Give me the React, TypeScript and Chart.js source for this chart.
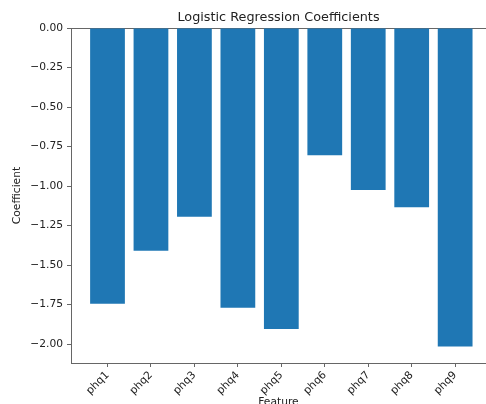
import { useEffect, useRef } from 'react';
import { Chart, registerables } from 'chart.js';

Chart.register(...registerables);

// values
const features = ['phq1', 'phq2', 'phq3', 'phq4', 'phq5', 'phq6', 'phq7', 'phq8', 'phq9'];
const coefficients = [-1.745, -1.41, -1.195, -1.77, -1.905, -0.805, -1.025, -1.135, -2.015];
const yTicks = [0, -0.25, -0.5, -0.75, -1, -1.25, -1.5, -1.75, -2];

// axis ranges (matplotlib margins, right side cropped in the original)
const xMin = -0.84;
const xMax = 8.71;
const yMin = -2.12;
const yMax = 0;

const family = 'DejaVu Sans';
const textColor = '#222';
const lineColor = '#666';

export default function App() {
  const canvasRef = useRef<HTMLCanvasElement | null>(null);

  useEffect(() => {
    if (!canvasRef.current) return;
    const font = { family, size: 10.7 };

    const chart = new Chart(canvasRef.current, {
      type: 'bar',
      data: {
        datasets: [
          {
            data: coefficients.map((y, x) => ({ x, y })),
            backgroundColor: '#1f77b4',
            borderWidth: 0,
            barPercentage: 0.8,
            categoryPercentage: 1,
          },
        ],
      },
      options: {
        animation: false,
        responsive: false,
        events: [],
        layout: { padding: 0 },
        plugins: {
          legend: { display: false },
          tooltip: { enabled: false },
        },
        scales: {
          x: {
            type: 'linear',
            position: 'bottom',
            min: xMin,
            max: xMax,
            offset: false,
            afterFit: (s: any) => {
              s.height = 41;
            },
            afterBuildTicks: (s: any) => {
              s.ticks = features.map((_, i) => ({ value: i }));
            },
            ticks: {
              callback: (v: any) => features[v as number],
              minRotation: 45,
              maxRotation: 45,
              autoSkip: false,
              padding: 2,
              color: textColor,
              font,
            },
            grid: { offset: false, drawOnChartArea: false, tickLength: 4, color: lineColor },
            border: { color: lineColor, width: 1 },
            title: {
              display: true,
              text: 'Feature',
              color: textColor,
              font,
              padding: { top: 0, bottom: -4.4 },
            },
          },
          x2: {
            type: 'linear',
            position: 'top',
            min: xMin,
            max: xMax,
            offset: false,
            afterFit: (s: any) => {
              s.height = 28;
            },
            ticks: { display: false },
            grid: { display: false },
            border: { color: lineColor, width: 1 },
            title: {
              display: true,
              text: 'Logistic Regression Coefficients',
              color: textColor,
              font: { family, size: 12.8 },
              padding: { top: 10.3, bottom: 0 },
            },
          },
          y: {
            type: 'linear',
            min: yMin,
            max: yMax,
            afterFit: (s: any) => {
              s.width = 71;
            },
            afterBuildTicks: (s: any) => {
              s.ticks = yTicks.map((value) => ({ value }));
            },
            ticks: {
              callback: (v: any) => Number(v).toFixed(2).replace('-', '\u2212'),
              padding: 4,
              color: textColor,
              font,
            },
            grid: { drawOnChartArea: false, tickLength: 4, color: lineColor },
            border: { color: lineColor, width: 1 },
            title: {
              display: true,
              text: 'Coefficient',
              color: textColor,
              font,
              padding: { top: 10.5, bottom: 0 },
            },
          },
        },
      },
    });

    return () => {
      chart.destroy();
    };
  }, []);

  return (
    <div style={{ position: 'absolute', left: 0, top: 0, width: 486, height: 404, background: '#fff' }}>
      <canvas ref={canvasRef} width={486} height={404} />
    </div>
  );
}
